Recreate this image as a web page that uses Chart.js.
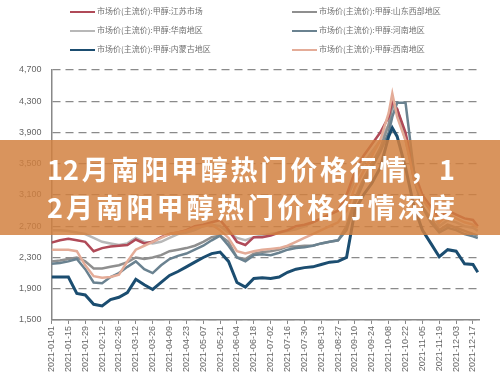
<!DOCTYPE html>
<html>
<head>
<meta charset="utf-8">
<script src="https://cdn.jsdelivr.net/npm/chart.js@4.4.0/dist/chart.umd.min.js"></script>
<style>
    html, body { margin: 0; padding: 0; background: #fff; }
    #wrap { position: relative; width: 500px; height: 376px; overflow: hidden; font-family: "Liberation Sans", "Noto Sans CJK SC", sans-serif; }
    #chart { position: absolute; left: 0; top: 0; }
    .item { position: absolute; font-size: 8px; color: #707070; white-space: nowrap; line-height: 10px; font-family: "Noto Sans CJK SC", sans-serif; }
    .item i { display: inline-block; width: 25px; height: 2px; vertical-align: middle; margin-right: 2px; }
    #banner { position: absolute; left: 0; top: 140px; width: 500px; height: 95px; background: rgba(210, 128, 62, 0.84); }
    #banner div { position: absolute; left: 47px; width: 408px; color: #fff; font: bold 27px/27px "Noto Sans CJK SC", sans-serif;
        white-space: nowrap; text-align: justify; text-align-last: justify; }
</style>
</head>
<body>
<div id="wrap">
    <canvas id="chart" width="500" height="376"></canvas>
    <div id="legend"></div>
    <div id="banner">
        <div style="top: 15px;">12月南阳甲醇热门价格行情，1</div>
        <div style="top: 53px;">2月南阳甲醇热门价格行情深度</div>
    </div>
</div>

<script>
// ------------------------
// DATA
// ------------------------

// day of year 2021 (0 = 01-01)
const days = [0, 7, 14, 21, 28, 35, 42, 49, 56, 63, 70, 77, 84, 91, 98, 105, 112, 119, 126, 133,
    140, 147, 154, 161, 168, 175, 182, 189, 196, 203, 210, 217, 224, 231, 238, 245, 252, 259, 266, 273,
    280, 283, 287, 294, 301, 308, 315, 322, 329, 336, 343, 350, 354];

const tickLabels = ["2021-01-01", "2021-01-15", "2021-01-29", "2021-02-12", "2021-02-26", "2021-03-12",
    "2021-03-26", "2021-04-09", "2021-04-23", "2021-05-07", "2021-05-21", "2021-06-04", "2021-06-18",
    "2021-07-02", "2021-07-16", "2021-07-30", "2021-08-13", "2021-08-27", "2021-09-10", "2021-09-24",
    "2021-10-08", "2021-10-22", "2021-11-05", "2021-11-19", "2021-12-03", "2021-12-17"];

const yTicks = [1500, 1900, 2300, 2700, 3100, 3500, 3900, 4300, 4700];

const jiangsu = [2490, 2520, 2540, 2520, 2500, 2380, 2420, 2440, 2450, 2460,
    2530, 2480, 2500, 2560, 2600, 2620, 2650, 2700, 2720, 2750,
    2780, 2650, 2500, 2460, 2560, 2560, 2580, 2620, 2650, 2700,
    2720, 2750, 2800, 2850, 2900, 3100, 3400, 3600, 3750, 3900,
    4100, 4300, 4200, 3900, 3400, 3100, 2950, 2800, 2900, 2850, 2800, 2780, 2700];

const huanan = [2650, 2650, 2640, 2620, 2600, 2550, 2500, 2480, 2460, 2480,
    2550, 2500, 2480, 2500, 2550, 2600, 2620, 2650, 2700, 2720,
    2700, 2620, 2550, 2520, 2560, 2580, 2600, 2620, 2640, 2660,
    2700, 2750, 2800, 2850, 2900, 3050, 3300, 3500, 3650, 3800,
    4000, 4250, 4150, 3800, 3350, 3050, 2900, 2700, 2780, 2750, 2700, 2680, 2640];

const neimenggu = [2050, 2050, 2050, 1840, 1820, 1700, 1680, 1760, 1790, 1850,
    2020, 1950, 1890, 1980, 2070, 2120, 2180, 2240, 2300, 2350,
    2370, 2250, 1980, 1920, 2030, 2040, 2030, 2050, 2110, 2150,
    2170, 2180, 2210, 2240, 2250, 2300, 2900, 3100, 3250, 3450,
    3850, 3960, 3850, 3450, 2950, 2650, 2480, 2310, 2400, 2380, 2220, 2210, 2110];

const shandong = [2250, 2260, 2280, 2300, 2250, 2160, 2160, 2180, 2200, 2240,
    2300, 2280, 2300, 2330, 2380, 2400, 2420, 2450, 2500, 2560,
    2580, 2500, 2300, 2280, 2350, 2370, 2380, 2400, 2440, 2440,
    2450, 2450, 2480, 2500, 2520, 2700, 3050, 3300, 3500, 3700,
    4000, 4250, 4200, 3850, 3300, 2950, 2800, 2650, 2720, 2680, 2640, 2600, 2580];

const henan = [2220, 2230, 2250, 2280, 2150, 1980, 1970, 2050, 2100, 2180,
    2250, 2150, 2100, 2200, 2280, 2320, 2350, 2400, 2450, 2520,
    2580, 2450, 2300, 2250, 2330, 2340, 2330, 2360, 2400, 2420,
    2430, 2450, 2480, 2500, 2520, 2650, 3000, 3250, 3450, 3650,
    3900, 4100, 4280, 4280, 3400, 2950, 2750, 2620, 2680, 2650, 2600, 2570, 2550];

const xinan = [2400, 2400, 2400, 2380, 2200, 2060, 2040, 2050, 2080, 2250,
    2400, 2450, 2500, 2550, 2600, 2620, 2640, 2680, 2700, 2720,
    2650, 2550, 2380, 2350, 2380, 2400, 2410, 2420, 2450, 2500,
    2550, 2600, 2650, 2700, 2750, 2900, 3200, 3400, 3600, 3800,
    4150, 4400, 4100, 3800, 3300, 3050, 2900, 2750, 2850, 2800, 2750, 2720, 2680];

const series = [
    { name: "市场价(主流价):甲醇:江苏市场", values: jiangsu, color: "#b04a58", width: 2.5, order: 4, col: 0, row: 0 },
    { name: "市场价(主流价):甲醇:华南地区", values: huanan, color: "#b8b8b8", width: 2.5, order: 6, col: 0, row: 1 },
    { name: "市场价(主流价):甲醇:内蒙古地区", values: neimenggu, color: "#1b4d70", width: 3, order: 1, col: 0, row: 2 },
    { name: "市场价(主流价):甲醇:山东西部地区", values: shandong, color: "#8f8f8f", width: 2.5, order: 5, col: 1, row: 0 },
    { name: "市场价(主流价):甲醇:河南地区", values: henan, color: "#6a8290", width: 2.5, order: 3, col: 1, row: 1 },
    { name: "市场价(主流价):甲醇:西南地区", values: xinan, color: "#e4ac98", width: 2.5, order: 2, col: 1, row: 2 }
];

// ------------------------
// LEGEND
// ------------------------

const legend = document.getElementById("legend");
series.forEach(s => {
    const el = document.createElement("div");
    el.className = "item";
    el.style.left = (s.col ? 292 : 70) + "px";
    el.style.top = (6 + s.row * 19) + "px";
    el.innerHTML = `<i style="background:${s.color}"></i>${s.name}`;
    legend.appendChild(el);
});

// ------------------------
// CHART
// ------------------------

const ctx = document.getElementById("chart").getContext("2d");

new Chart(ctx, {
    type: "line",
    data: {
        datasets: series.map(s => ({
            label: s.name,
            data: days.map((d, i) => ({ x: d, y: s.values[i] })),
            borderColor: s.color,
            borderWidth: s.width,
            pointRadius: 0,
            tension: 0,
            fill: false,
            order: s.order
        }))
    },
    options: {
        responsive: false,
        animation: false,
        layout: { padding: { left: 9, top: 70, right: 21, bottom: 2 } },
        plugins: { legend: { display: false }, tooltip: { enabled: false } },
        scales: {
            x: {
                type: "linear",
                min: 0,
                max: 355,
                afterBuildTicks: axis => {
                    axis.ticks = tickLabels.map((_, i) => ({ value: i * 14 }));
                },
                ticks: {
                    autoSkip: false,
                    minRotation: 90,
                    maxRotation: 90,
                    padding: 2,
                    color: "#666",
                    font: { family: "Liberation Sans", size: 9 },
                    callback: v => tickLabels[Math.round(v / 14)]
                },
                grid: { drawOnChartArea: false, color: "#888", tickLength: 4 },
                border: { color: "#888", width: 1.5 }
            },
            y: {
                min: 1500,
                max: 4700,
                afterBuildTicks: axis => {
                    axis.ticks = yTicks.map(v => ({ value: v }));
                },
                ticks: {
                    padding: 10,
                    color: "#666",
                    font: { family: "Liberation Sans", size: 9 },
                    callback: v => v.toLocaleString("en-US")
                },
                grid: { color: "#8a8a8a", lineWidth: 1.2, drawTicks: false },
                border: { color: "#888", width: 1.5, dash: [8, 5] }
            }
        }
    }
});
</script>
</body>
</html>
